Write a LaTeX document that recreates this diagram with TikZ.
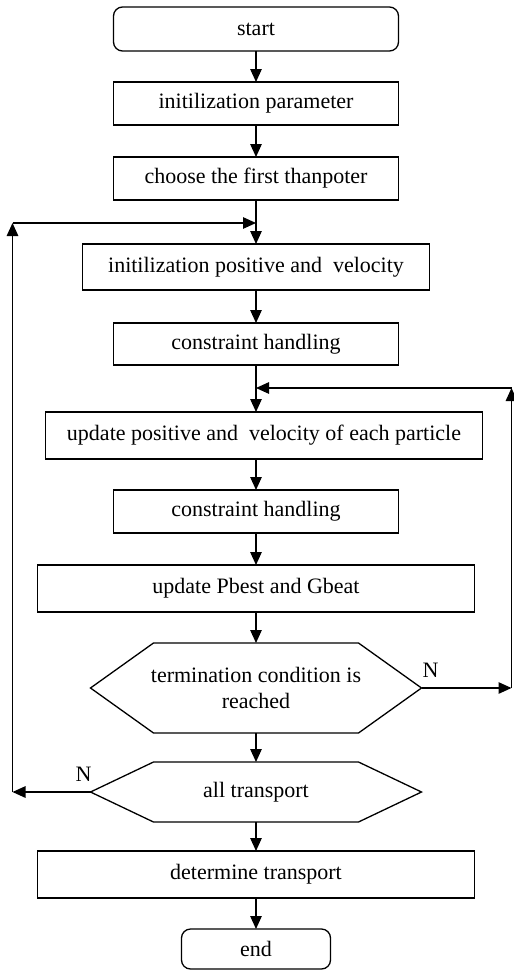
\documentclass[tikz,border=0pt]{standalone}
\usepackage{fontspec}
\setmainfont{Liberation Serif}
\usetikzlibrary{arrows.meta, positioning}

\begin{document}
\begin{tikzpicture}[
    x=1pt, y=1pt,
    node distance=31pt,
    every node/.style={font=\fontsize{22}{26}\selectfont, outer sep=0pt},
    box/.style={rectangle, draw, line width=1.3pt, minimum height=43pt, align=center, inner sep=0pt},
    termbox/.style={box, rounded corners=9pt},
    hexbox/.style={rectangle, minimum width=331pt, align=center, inner sep=0pt},
    line/.style={line width=1.3pt},
    >={Triangle[length=13pt, width=11.5pt]},
]
\useasboundingbox (0,0) rectangle (514,-970);
\node[termbox, minimum width=285pt, minimum height=44pt] (start) at (256,-29) {start};
\node[box, minimum width=285pt, below=of start] (init) {initilization parameter};
\node[box, minimum width=285pt, below=32pt of init] (choose) {choose the first thanpoter};
\node[box, minimum width=347pt, minimum height=46pt, below=44pt of choose] (initpos) {initilization positive and~ velocity};
\node[box, minimum width=285pt, minimum height=42pt, below=33pt of initpos] (cons1) {constraint handling};
\node[box, minimum width=437pt, minimum height=47pt, below=47pt of cons1, xshift=8pt] (updpos) {update positive and~ velocity of each particle};
\node[box, minimum width=285pt, below=31pt of updpos, xshift=-8pt] (cons2) {constraint handling};
\node[box, minimum width=437pt, minimum height=47pt, below=32pt of cons2] (pbest) {update Pbest and Gbeat};
\node[hexbox, minimum height=90pt, below=31pt of pbest] (term) {termination condition is\\reached};
\node[hexbox, minimum height=60pt, below=29pt of term] (alltr) {all transport};
\node[box, minimum width=437pt, minimum height=47pt, below=29pt of alltr] (det) {determine transport};
\node[termbox, minimum width=149pt, minimum height=40pt, below=31pt of det] (end) {end};

% hexagon outlines
\foreach \h in {term, alltr}
  \draw[line] ([xshift=63pt]\h.north west) -- ([xshift=-63pt]\h.north east) -- (\h.east)
    -- ([xshift=-63pt]\h.south east) -- ([xshift=63pt]\h.south west) -- (\h.west) -- cycle;

% main flow
\draw[line, ->] (start) -- (init);
\draw[line, ->] (init) -- (choose);
\draw[line, ->] (choose) -- (initpos);
\draw[line, ->] (initpos) -- (cons1);
\draw[line, ->] (cons1.south) -- (cons1.south |- updpos.north);
\draw[line, ->] (updpos.south -| cons2.north) -- (cons2.north);
\draw[line, ->] (cons2) -- (pbest);
\draw[line, ->] (pbest) -- (term);
\draw[line, ->] (term) -- (alltr);
\draw[line, ->] (alltr) -- (det);
\draw[line, ->] (det) -- (end);

% inner loop
\coordinate (rb) at ([xshift=90pt]term.east);
\coordinate (rt) at ([yshift=24pt]updpos.north -| rb);
\coordinate (rj) at (cons1.south |- rt);
\draw[line, ->] (term.east) -- node[pos=0.1, above=11pt, inner sep=0pt] {N} (rb);
\draw[line, ->] (rb) -- (rt);
\draw[line, ->] (rt) -- (rj);

% outer loop
\coordinate (lb) at ([xshift=-78pt]alltr.west);
\coordinate (lt) at ([yshift=21pt]initpos.north -| lb);
\coordinate (lj) at (choose.south |- lt);
\draw[line, ->] (alltr.west) -- node[pos=0.09, above=11pt, inner sep=0pt] {N} (lb);
\draw[line, ->] (lb) -- (lt);
\draw[line, ->] (lt) -- (lj);
\end{tikzpicture}
\end{document}
